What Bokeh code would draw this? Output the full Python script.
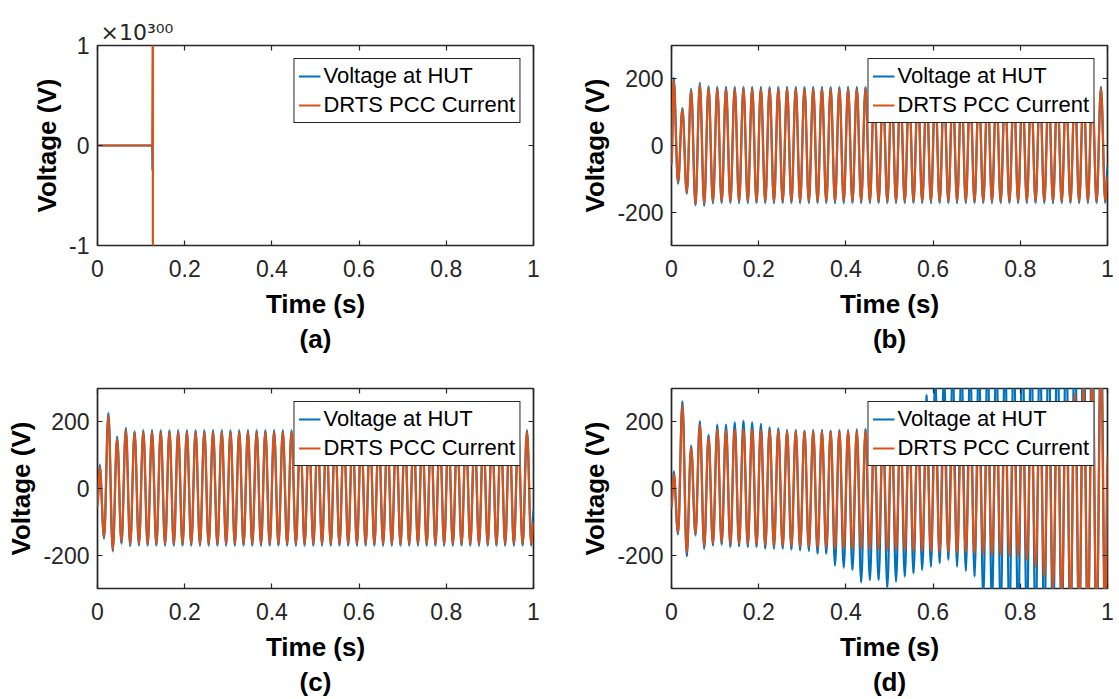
import numpy as np
from bokeh.plotting import figure
from bokeh.models import (Range1d, FixedTicker, LinearAxis, Legend, LegendItem,
                          Title, ColumnDataSource)
from bokeh.layouts import row, column
from bokeh.embed import file_html
from bokeh.resources import INLINE

# ------------------------------------------------------------------ data
series_names = ["Voltage at HUT", "DRTS PCC Current"]
panel_letters = ["(a)", "(b)", "(c)", "(d)"]

time_ticks = [0, 0.2, 0.4, 0.6, 0.8, 1]
time_tick_labels = ["0", "0.2", "0.4", "0.6", "0.8", "1"]
volt_ticks = [-200, 0, 200]
volt_tick_labels = ["-200", "0", "200"]
a_ticks = [-1, 0, 1]            # in units of 1e300
a_tick_labels = ["-1", "0", "1"]
A_EXP = 1e300                    # axis multiplier of panel (a)
a_multiplier_text = "\u00d710\u00b3\u2070\u2070"   # x10^300

# panel (a): simulation blows up just after 0.125 s
a_hut_time = [0.0, 0.1255, 0.1262]
a_hut = [0.0, 0.0, -0.25e300]
a_drts_time = [0.0, 0.1255, 0.127, 0.127]
a_drts = [0.0, 0.0, 1.5e300, -1.5e300]

# panels (b)-(d): 50 Hz waveforms, one positive and one negative extreme per cycle
FREQ = 50.0
FIRST_PEAK = 0.005

b_start = [-60, -60]
b_end = [-60, -90]
b_hut_pos = [203, 113, 170, 188, 178, 176, 176, 176, 176, 176,
             176, 176, 176, 176, 176, 176, 176, 176, 176, 176,
             176, 176, 176, 176, 176, 176, 176, 176, 176, 176,
             176, 176, 176, 176, 176, 176, 176, 176, 176, 176,
             176, 176, 176, 176, 176, 176, 176, 176, 176, 176]
b_hut_neg = [-115, -145, -180, -181, -174, -173, -173, -173, -173, -173,
             -173, -173, -173, -173, -173, -173, -173, -173, -173, -173,
             -173, -173, -173, -173, -173, -173, -173, -173, -173, -173,
             -173, -173, -173, -173, -173, -173, -173, -173, -173, -173,
             -173, -173, -173, -173, -173, -173, -173, -173, -173, -173]
b_drts_pos = [196, 108, 164, 182, 172, 170, 170, 170, 170, 170,
              170, 170, 170, 170, 170, 170, 170, 170, 170, 170,
              170, 170, 170, 170, 170, 170, 170, 170, 170, 170,
              170, 170, 170, 170, 170, 170, 170, 170, 170, 170,
              170, 170, 170, 170, 170, 170, 170, 170, 170, 170]
b_drts_neg = [-110, -140, -174, -175, -168, -167, -167, -167, -167, -167,
              -167, -167, -167, -167, -167, -167, -167, -167, -167, -167,
              -167, -167, -167, -167, -167, -167, -167, -167, -167, -167,
              -167, -167, -167, -167, -167, -167, -167, -167, -167, -167,
              -167, -167, -167, -167, -167, -167, -167, -167, -167, -167]

c_start = [-56, -56]
c_end = [-60, -100]
c_hut_pos = [72, 227, 156, 182, 172, 175, 175, 175, 175, 175,
             175, 175, 175, 175, 175, 175, 175, 175, 175, 175,
             175, 175, 175, 175, 175, 175, 175, 175, 175, 175,
             175, 175, 175, 175, 175, 175, 175, 175, 175, 175,
             175, 175, 175, 175, 175, 175, 175, 175, 175, 175]
c_hut_neg = [-150, -189, -166, -173, -171, -172, -172, -172, -172, -172,
             -172, -172, -172, -172, -172, -172, -172, -172, -172, -172,
             -172, -172, -172, -172, -172, -172, -172, -172, -172, -172,
             -172, -172, -172, -172, -172, -172, -172, -172, -172, -172,
             -172, -172, -172, -172, -172, -172, -172, -172, -172, -172]
c_drts_pos = [66, 219, 149, 176, 167, 169, 169, 169, 169, 169,
              169, 169, 169, 169, 169, 169, 169, 169, 169, 169,
              169, 169, 169, 169, 169, 169, 169, 169, 169, 169,
              169, 169, 169, 169, 169, 169, 169, 169, 169, 169,
              169, 169, 169, 169, 169, 169, 169, 169, 169, 169]
c_drts_neg = [-145, -183, -160, -167, -165, -166, -166, -166, -166, -166,
              -166, -166, -166, -166, -166, -166, -166, -166, -166, -166,
              -166, -166, -166, -166, -166, -166, -166, -166, -166, -166,
              -166, -166, -166, -166, -166, -166, -166, -166, -166, -166,
              -166, -166, -166, -166, -166, -166, -166, -166, -166, -166]

d_start = [-60, -60]
d_end = [0, 100]
d_hut_pos = [52, 262, 129, 202, 162, 192, 192, 199, 204, 199,
             194, 184, 181, 176, 176, 174, 176, 176, 174, 176,
             176, 178, 180, 190, 200, 210, 220, 230, 240, 282,
             330, 345, 360, 370, 380, 390, 400, 410, 420, 430,
             440, 450, 460, 470, 480, 490, 500, 510, 520, 530]
d_hut_neg = [-138, -204, -141, -181, -171, -169, -176, -174, -176, -176,
             -181, -181, -181, -184, -186, -188, -196, -196, -231, -238,
             -245, -282, -275, -275, -298, -280, -265, -255, -245, -235,
             -225, -215, -235, -248, -265, -330, -350, -370, -390, -400,
             -410, -420, -430, -440, -450, -460, -470, -480, -490, -500]
d_drts_pos = [45, 250, 122, 192, 154, 178, 175, 178, 178, 178,
              176, 176, 174, 172, 172, 172, 172, 172, 172, 172,
              172, 172, 172, 172, 172, 172, 174, 174, 176, 176,
              178, 180, 182, 184, 186, 188, 190, 192, 195, 198,
              205, 212, 220, 230, 245, 262, 285, 310, 335, 360]
d_drts_neg = [-132, -192, -135, -172, -164, -162, -165, -165, -167, -168,
              -170, -172, -172, -172, -175, -175, -178, -178, -180, -180,
              -182, -182, -184, -184, -186, -186, -186, -188, -188, -188,
              -190, -190, -192, -192, -194, -196, -198, -200, -202, -205,
              -215, -235, -265, -300, -325, -345, -360, -375, -390, -400]

# ------------------------------------------------------------------ style
BLUE = "#0072BD"
ORANGE = "#D95319"
AX = "#262626"
FONT = "Liberation Sans"
K = 0.3634  # bezier handle fraction giving a sine-like arc between extremes
LW = 2.2


def wave_source(start, pos, neg, end):
    ts, vs = [0.0], [start]
    half = 0.5 / FREQ
    for k in range(len(pos)):
        tp = FIRST_PEAK + k / FREQ
        ts += [tp, tp + half]
        vs += [pos[k], neg[k]]
    ts.append(1.0)
    vs.append(end)
    t = np.array(ts, dtype=float)
    v = np.array(vs, dtype=float)
    t0, t1, v0, v1 = t[:-1], t[1:], v[:-1], v[1:]
    h = t1 - t0
    return ColumnDataSource(dict(x0=t0, y0=v0, x1=t1, y1=v1,
                                 cx0=t0 + K * h, cy0=v0, cx1=t1 - K * h, cy1=v1))


def make_fig(width, height, left, right, top, bottom, ylo, yhi, yticks, ylabels, letter):
    p = figure(width=width, height=height, x_range=Range1d(0, 1), y_range=Range1d(ylo, yhi),
               output_backend="svg", toolbar_location=None,
               min_border_left=left, min_border_right=right,
               min_border_top=top, min_border_bottom=bottom,
               x_axis_label="Time (s)", y_axis_label="Voltage (V)")
    p.title.visible = False
    p.grid.visible = False
    p.background_fill_color = "white"
    p.border_fill_color = "white"
    p.outline_line_color = AX
    p.outline_line_width = 1.7
    p.outline_line_alpha = 1.0

    for ax in p.xaxis:
        ax.ticker = FixedTicker(ticks=time_ticks)
        ax.major_label_overrides = dict(zip(time_ticks, time_tick_labels))
        ax.major_label_standoff = 14
        ax.axis_label_standoff = 9
    for ax in p.yaxis:
        ax.ticker = FixedTicker(ticks=yticks)
        ax.major_label_overrides = dict(zip(yticks, ylabels))
        ax.major_label_standoff = 8
        ax.axis_label_standoff = 4
    for ax in list(p.xaxis) + list(p.yaxis):
        ax.axis_line_color = None
        ax.major_tick_in = 5
        ax.major_tick_out = 0
        ax.major_tick_line_color = AX
        ax.major_tick_line_width = 1.2
        ax.minor_tick_line_color = None
        ax.major_label_text_font = FONT
        ax.major_label_text_font_size = "23px"
        ax.major_label_text_color = AX
        ax.axis_label_text_font = FONT
        ax.axis_label_text_font_size = "26px"
        ax.axis_label_text_font_style = "bold"
        ax.axis_label_text_color = "black"

    top_ax = LinearAxis(ticker=FixedTicker(ticks=time_ticks))
    right_ax = LinearAxis(ticker=FixedTicker(ticks=yticks))
    for ax in (top_ax, right_ax):
        ax.axis_line_color = None
        ax.major_tick_in = 5
        ax.major_tick_out = 0
        ax.major_tick_line_color = AX
        ax.major_tick_line_width = 1.2
        ax.minor_tick_line_color = None
        ax.major_label_text_color = None
        ax.major_label_text_font_size = "1px"
        ax.major_label_standoff = 0
    p.add_layout(top_ax, "above")
    p.add_layout(right_ax, "right")

    p.add_layout(Title(text=letter, align="center", text_font=FONT, text_font_size="26px",
                       text_font_style="bold", text_color="black", standoff=1), "below")
    return p


def add_legend(p, r_blue, r_orange):
    leg = Legend(items=[LegendItem(label=series_names[0], renderers=[r_blue]),
                        LegendItem(label=series_names[1], renderers=[r_orange])],
                 location="top_right", margin=13, padding=4, spacing=3,
                 glyph_width=22, glyph_height=20, label_height=20, label_standoff=3,
                 label_text_font=FONT, label_text_font_size="22px", label_text_color="black",
                 border_line_color=AX, border_line_width=1.5, border_line_alpha=1.0,
                 background_fill_color="white", background_fill_alpha=1.0)
    p.add_layout(leg)


W1, W2 = 574, 545
H1, H2 = 356, 343

# ---- (a)
pa = make_fig(W1, H1, 97, 41, 45, 111, -1, 1, a_ticks, a_tick_labels, panel_letters[0])
ra1 = pa.line(a_hut_time, [v / A_EXP for v in a_hut], line_color=BLUE, line_width=LW)
ra2 = pa.line(a_drts_time, [v / A_EXP for v in a_drts], line_color=ORANGE, line_width=LW)
add_legend(pa, ra1, ra2)
pa.title.visible = True
pa.title.text = a_multiplier_text
pa.title.align = "left"
pa.title.offset = 3
pa.title.standoff = 2
pa.title.text_font = "DejaVu Sans"
pa.title.text_font_size = "22px"
pa.title.text_font_style = "normal"
pa.title.text_color = AX


def wave_panel(width, height, left, right, top, bottom, letter, start, end,
               hut_pos, hut_neg, drts_pos, drts_neg):
    p = make_fig(width, height, left, right, top, bottom, -300, 300,
                 volt_ticks, volt_tick_labels, letter)
    s1 = wave_source(start[0], hut_pos, hut_neg, end[0])
    s2 = wave_source(start[1], drts_pos, drts_neg, end[1])
    kw = dict(x0="x0", y0="y0", x1="x1", y1="y1", cx0="cx0", cy0="cy0", cx1="cx1", cy1="cy1")
    r1 = p.bezier(source=s1, line_color=BLUE, line_width=LW, **kw)
    r2 = p.bezier(source=s2, line_color=ORANGE, line_width=LW, **kw)
    add_legend(p, r1, r2)
    return p


pb = wave_panel(W2, H1, 97, 12, 45, 111, panel_letters[1], b_start, b_end,
                b_hut_pos, b_hut_neg, b_drts_pos, b_drts_neg)
pc = wave_panel(W1, H2, 97, 41, 32, 111, panel_letters[2], c_start, c_end,
                c_hut_pos, c_hut_neg, c_drts_pos, c_drts_neg)
pd = wave_panel(W2, H2, 97, 12, 32, 111, panel_letters[3], d_start, d_end,
                d_hut_pos, d_hut_neg, d_drts_pos, d_drts_neg)

layout = column(row(pa, pb), row(pc, pd))
open("out.html", "w").write(file_html(layout, INLINE))
